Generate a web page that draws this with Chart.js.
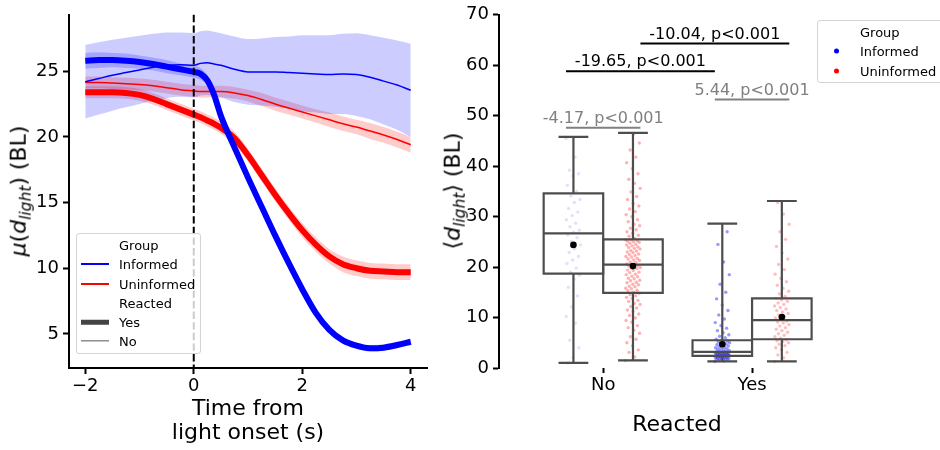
<!DOCTYPE html>
<html>
<head>
<meta charset="utf-8">
<script src="https://cdn.jsdelivr.net/npm/chart.js@4.4.1/dist/chart.umd.min.js"></script>
<style>
  body { margin: 0; width: 940px; height: 450px; overflow: hidden; background: #fff;
         font-family: "DejaVu Sans", sans-serif; position: relative; }
  .panel { position: absolute; top: 0; height: 450px; }
  #left { left: 0; width: 440px; }
  #right { left: 440px; width: 500px; }
  .lbl { position: absolute; font-size: 22px; color: #000; white-space: nowrap;
         transform: translate(-50%, -50%); text-align: center; }
  .ylbl { transform: translate(-50%, -50%) rotate(-90deg); }
  .lbl sub { font-size: 70%; vertical-align: -0.3em; }
  .legend { position: absolute; background: rgba(255,255,255,0.8); border: 1px solid #d4d4d4;
            border-radius: 3px; font-size: 13px; color: #000; }
  .row { position: absolute; left: 42px; height: 19px; line-height: 19px; white-space: nowrap;
         transform: translateY(-50%); }
  .handle { position: absolute; left: 4px; width: 28px; transform: translateY(-50%); }
  .dot { position: absolute; left: 16px; width: 5px; height: 5px; border-radius: 50%;
         transform: translateY(-50%); }
</style>
</head>
<body>
<div id="left" class="panel"><canvas id="lineChart" width="440" height="450"></canvas></div>
<div id="right" class="panel"><canvas id="boxChart" width="500" height="450"></canvas></div>

<div class="lbl ylbl" style="left:20px; top:191px;"><i>μ</i>(<i>d</i><sub><i>light</i></sub>) (BL)</div>
<div class="lbl" style="left:248px; top:420px; line-height:24px;">Time from<br>light onset (s)</div>
<div class="lbl ylbl" style="left:454px; top:191px;">⟨<i>d</i><sub><i>light</i></sub>⟩ (BL)</div>
<div class="lbl" style="left:677px; top:423px;">Reacted</div>

<div class="legend" style="left:76px; top:233px; width:123px; height:119px;">
  <div class="row" style="top:11px;">Group</div>
  <div class="handle" style="top:30px; height:2px; background:#0000ff;"></div>
  <div class="row" style="top:30px;">Informed</div>
  <div class="handle" style="top:49.5px; height:2px; background:#ff0000;"></div>
  <div class="row" style="top:49.5px;">Uninformed</div>
  <div class="row" style="top:69px;">Reacted</div>
  <div class="handle" style="top:88px; height:4.5px; background:#444;"></div>
  <div class="row" style="top:88px;">Yes</div>
  <div class="handle" style="top:107px; height:1.3px; background:#555;"></div>
  <div class="row" style="top:107px;">No</div>
</div>

<div class="legend" style="left:817px; top:20px; width:140px; height:61px;">
  <div class="row" style="top:10.5px;">Group</div>
  <div class="dot" style="top:30px; background:#0000ff;"></div>
  <div class="row" style="top:30px;">Informed</div>
  <div class="dot" style="top:49.5px; background:#ff0000;"></div>
  <div class="row" style="top:49.5px;">Uninformed</div>
</div>

<script>
Chart.defaults.font.family = "DejaVu Sans";
Chart.defaults.color = "#000";

// ---- mean distance to light over time ----
const time = [-2, -1.75, -1.5, -1.25, -1, -0.75, -0.5, -0.25, 0, 0.125, 0.25, 0.375, 0.5,
  0.75, 1, 1.25, 1.5, 1.75, 2, 2.25, 2.5, 2.75, 3, 3.25, 3.5, 3.75, 4];

const informedYes = [25.8, 25.85, 25.85, 25.8, 25.7, 25.55, 25.35, 25.15, 24.95, 24.8, 24.3, 23.2, 21.6,
  19.2, 16.9, 14.7, 12.5, 10.4, 8.4, 6.6, 5.3, 4.5, 4.1, 3.9, 3.95, 4.15, 4.4];
const informedYesCi = [0.6, 0.6, 0.55, 0.55, 0.5, 0.5, 0.5, 0.45, 0.45, 0.45, 0.4, 0.35, 0.3,
  0.3, 0.3, 0.3, 0.3, 0.3, 0.3, 0.3, 0.25, 0.25, 0.25, 0.25, 0.25, 0.25, 0.25];

const uninformedYes = [23.4, 23.4, 23.4, 23.35, 23.2, 22.9, 22.5, 22.1, 21.7, 21.5, 21.25, 21.0, 20.7,
  19.9, 18.6, 17.1, 15.6, 14.2, 12.9, 11.8, 10.9, 10.3, 10.0, 9.8, 9.75, 9.7, 9.7];
const uninformedYesCi = [0.45, 0.45, 0.45, 0.45, 0.45, 0.45, 0.45, 0.45, 0.45, 0.45, 0.45, 0.45, 0.45,
  0.5, 0.5, 0.5, 0.5, 0.5, 0.55, 0.55, 0.55, 0.6, 0.6, 0.6, 0.6, 0.6, 0.6];

const informedNo = [24.2, 24.45, 24.7, 24.9, 25.1, 25.3, 25.45, 25.5, 25.45, 25.6, 25.65, 25.55, 25.45,
  25.15, 24.95, 24.95, 24.95, 24.9, 24.85, 24.8, 24.75, 24.8, 24.75, 24.55, 24.25, 23.95, 23.55];
const informedNoCi = [2.8, 2.75, 2.7, 2.65, 2.6, 2.55, 2.5, 2.45, 2.45, 2.45, 2.45, 2.45, 2.45,
  2.5, 2.5, 2.55, 2.65, 2.75, 2.9, 2.95, 3.0, 3.05, 3.15, 3.2, 3.3, 3.4, 3.55];

const uninformedNo = [24.15, 24.15, 24.1, 24.05, 24.0, 23.9, 23.75, 23.6, 23.5, 23.45, 23.45, 23.45, 23.45,
  23.35, 23.15, 22.85, 22.5, 22.2, 21.9, 21.6, 21.3, 21.0, 20.75, 20.45, 20.15, 19.8, 19.4];
const uninformedNoCi = [0.45, 0.45, 0.45, 0.45, 0.45, 0.45, 0.45, 0.45, 0.45, 0.45, 0.45, 0.45, 0.45,
  0.45, 0.45, 0.5, 0.5, 0.5, 0.5, 0.5, 0.55, 0.55, 0.55, 0.6, 0.6, 0.6, 0.6];

const timeTicks = [-2, 0, 2, 4];
const distTicks = [5, 10, 15, 20, 25];

const BLUE = "#0000ff";
const RED = "#ff0000";

function pts(arr) {
  return time.map((t, i) => ({ x: t, y: arr[i] }));
}

function meanLine(arr, color, width) {
  return {
    data: pts(arr), borderColor: color, borderWidth: width, pointRadius: 0,
    cubicInterpolationMode: "monotone", fill: false, order: 0,
  };
}

// upper edge fills down to the lower edge that follows it
function ciBand(arr, ci, fillColor) {
  const hi = arr.map((v, i) => v + ci[i]);
  const lo = arr.map((v, i) => v - ci[i]);
  return [
    { data: pts(hi), borderWidth: 0, pointRadius: 0, cubicInterpolationMode: "monotone",
      fill: "+1", backgroundColor: fillColor, order: 1 },
    { data: pts(lo), borderWidth: 0, pointRadius: 0, cubicInterpolationMode: "monotone",
      fill: false, order: 1 },
  ];
}

const onsetLine = {
  id: "onsetLine",
  afterDatasetsDraw(chart) {
    const { ctx, chartArea, scales } = chart;
    const x = scales.x.getPixelForValue(0);
    ctx.save();
    ctx.strokeStyle = "#000";
    ctx.lineWidth = 2;
    ctx.setLineDash([7.4, 3.2]);
    ctx.beginPath();
    ctx.moveTo(x, chartArea.top);
    ctx.lineTo(x, chartArea.bottom);
    ctx.stroke();
    ctx.restore();
  },
};

new Chart(document.getElementById("lineChart"), {
  type: "line",
  data: {
    datasets: [
      meanLine(informedYes, BLUE, 6),
      meanLine(uninformedYes, RED, 6),
      meanLine(informedNo, BLUE, 1.5),
      meanLine(uninformedNo, RED, 1.5),
      ...ciBand(informedNo, informedNoCi, "rgba(0,0,255,0.2)"),
      ...ciBand(informedYes, informedYesCi, "rgba(0,0,255,0.2)"),
      ...ciBand(uninformedNo, uninformedNoCi, "rgba(255,0,0,0.2)"),
      ...ciBand(uninformedYes, uninformedYesCi, "rgba(255,0,0,0.2)"),
    ],
  },
  options: {
    responsive: false,
    animation: false,
    layout: { padding: { top: 13, right: 13, left: 0, bottom: 0 } },
    plugins: { legend: { display: false }, tooltip: { enabled: false } },
    scales: {
      x: {
        type: "linear", min: -2.3, max: 4.3,
        afterBuildTicks: (s) => { s.ticks = timeTicks.map((v) => ({ value: v })); },
        afterFit: (s) => { s.height = 82; },
        ticks: { font: { size: 18 }, padding: 2, maxRotation: 0,
                 callback: (v) => (v < 0 ? "\u2212" + Math.abs(v) : String(v)) },
        grid: { drawOnChartArea: false, tickLength: 6, tickWidth: 2, color: "#000" },
        border: { color: "#000", width: 2 },
      },
      y: {
        min: 2.4, max: 29.3,
        afterBuildTicks: (s) => { s.ticks = distTicks.map((v) => ({ value: v })); },
        afterFit: (s) => { s.width = 69; },
        ticks: { font: { size: 18 }, padding: 4 },
        grid: { drawOnChartArea: false, tickLength: 6, tickWidth: 2, color: "#000" },
        border: { color: "#000", width: 2 },
      },
    },
  },
  plugins: [onsetLine],
});

// ---- time-averaged distance by reaction and group ----
const reacted = ["No", "Yes"];
// order: No/Informed, No/Uninformed, Yes/Informed, Yes/Uninformed
const boxCenter = [-0.2, 0.2, 0.8, 1.2];
const whiskerLo = [1.0, 1.5, 1.3, 1.3];
const boxQ1 = [18.7, 14.9, 2.4, 5.7];
const boxMedian = [26.7, 20.5, 3.2, 9.5];
const boxQ3 = [34.6, 25.5, 5.5, 13.8];
const whiskerHi = [45.8, 46.6, 28.6, 33.1];
const groupMean = [24.4, 20.2, 4.7, 10.1];

const noInformedPts = [45.5, 41.8, 39.2, 38.5, 38.1, 36.2, 35.0, 34.1, 33.4, 32.8, 31.6, 30.9, 30.2,
  29.4, 28.7, 28.0, 27.3, 26.9, 26.4, 25.8, 25.1, 24.4, 23.6, 22.9, 22.1, 21.4, 20.7, 19.8, 19.0,
  18.4, 17.6, 16.0, 14.3, 12.1, 10.2, 8.9, 5.5, 4.0, 2.1, 1.0];
const noUninformedPts = [1.5, 2.2, 3.1, 3.6, 4.4, 5.0, 5.7, 6.2, 6.9, 7.5, 8.0, 8.4, 9.1, 9.4, 9.9,
  10.4, 10.7, 11.2, 11.5, 11.9, 12.2, 12.6, 12.8, 13.2, 13.4, 13.8, 14.0, 14.3, 14.5, 14.8,
  15.0, 15.3, 15.4, 15.7, 15.8, 16.1, 16.2, 16.5, 16.6, 16.9, 17.0, 17.3, 17.4, 17.7, 17.8, 18.1,
  18.2, 18.5, 18.6, 18.9, 19.0, 19.3, 19.4, 19.7, 19.8, 19.9, 20.1, 20.2, 20.3, 20.4,
  20.6, 20.9, 21.0, 21.3, 21.4, 21.6, 21.7, 22.0, 22.1, 22.3, 22.5, 22.6, 22.9, 23.0, 23.2, 23.3,
  23.6, 23.7, 23.9, 24.0, 24.2, 24.4, 24.5, 24.7, 24.9, 25.0, 25.1, 25.2, 25.4, 25.4,
  25.7, 26.1, 26.3, 26.7, 27.0, 27.4, 27.7, 28.2, 28.5, 29.0, 29.4, 30.0, 30.4, 31.0, 31.5, 32.1,
  32.6, 33.4, 34.0, 34.9, 35.6, 36.6, 37.4, 38.5, 39.5, 40.7, 41.8, 43.2, 44.6, 46.4];
const yesInformedPts = [1.3, 1.4, 1.5, 1.6, 1.7, 1.75, 1.8, 1.85, 1.9, 1.95, 2.0, 2.05, 2.1, 2.15,
  2.2, 2.25, 2.3, 2.3, 2.35, 2.4, 2.45, 2.5, 2.5, 2.55, 2.6, 2.6, 2.65, 2.7, 2.75, 2.8, 2.8, 2.85,
  2.9, 2.95, 3.0, 3.0, 3.05, 3.1, 3.15, 3.2, 3.3, 3.4, 3.5, 3.6, 3.7, 3.8, 3.9, 4.0, 4.1, 4.2, 4.35,
  4.5, 4.6, 4.75, 4.9, 5.0, 5.1, 5.2, 5.35, 5.5, 5.7, 6.0, 6.3, 6.6, 7.0, 7.4, 7.9, 8.4, 9.0, 9.7,
  10.5, 11.4, 12.5, 13.7, 15.0, 16.6, 18.5, 21.0, 24.5, 27.0];
const yesUninformedPts = [1.3, 2.0, 2.6, 3.1, 3.6, 4.0, 4.4, 4.7, 5.0, 5.2, 5.4, 5.6, 5.9, 6.2, 6.5,
  6.8, 7.1, 7.4, 7.7, 8.0, 8.3, 8.6, 8.9, 9.1, 9.3, 9.6, 9.9, 10.2, 10.5, 10.8, 11.1, 11.4, 11.7,
  12.0, 12.3, 12.6, 12.9, 13.2, 13.5, 13.8, 14.2, 14.7, 15.2, 15.8, 16.4, 17.1, 17.8, 18.6, 19.5,
  20.5, 21.6, 22.8, 24.1, 25.5, 27.0, 28.5, 30.5, 32.8];

const comparisons = [
  { label: "-4.17, p<0.001", from: -0.25, to: 0.25, y: 47.6, color: "#808080" },
  { label: "5.44, p<0.001", from: 0.75, to: 1.25, y: 53.2, color: "#808080" },
  { label: "-19.65, p<0.001", from: -0.25, to: 0.75, y: 58.8, color: "#000" },
  { label: "-10.04, p<0.001", from: 0.25, to: 1.25, y: 64.3, color: "#000" },
];

// strip of points around a box centre, spread sideways a little
function strip(values, center) {
  return values.map((v, i) => ({ x: center + (((i * 0.618034) % 1) - 0.5) * 0.1, y: v }));
}

function stripSet(values, center, color) {
  return { type: "scatter", data: strip(values, center), pointRadius: 1.7,
           pointBackgroundColor: color, pointBorderWidth: 0 };
}

const boxes = {
  id: "boxes",
  afterDatasetsDraw(chart) {
    const { ctx, scales: { x, y } } = chart;
    ctx.save();
    ctx.strokeStyle = "#4d4d4d";
    ctx.lineWidth = 2.2;
    boxCenter.forEach((c, i) => {
      const l = x.getPixelForValue(c - 0.2), r = x.getPixelForValue(c + 0.2);
      const m = x.getPixelForValue(c);
      const cl = x.getPixelForValue(c - 0.1), cr = x.getPixelForValue(c + 0.1);
      const q1 = y.getPixelForValue(boxQ1[i]), q3 = y.getPixelForValue(boxQ3[i]);
      const md = y.getPixelForValue(boxMedian[i]);
      const lo = y.getPixelForValue(whiskerLo[i]), hi = y.getPixelForValue(whiskerHi[i]);
      ctx.beginPath();
      ctx.rect(l, q3, r - l, q1 - q3);
      ctx.moveTo(l, md); ctx.lineTo(r, md);
      ctx.moveTo(m, q1); ctx.lineTo(m, lo);
      ctx.moveTo(m, q3); ctx.lineTo(m, hi);
      ctx.moveTo(cl, lo); ctx.lineTo(cr, lo);
      ctx.moveTo(cl, hi); ctx.lineTo(cr, hi);
      ctx.stroke();
    });
    ctx.fillStyle = "#000";
    boxCenter.forEach((c, i) => {
      ctx.beginPath();
      ctx.arc(x.getPixelForValue(c), y.getPixelForValue(groupMean[i]), 3.3, 0, Math.PI * 2);
      ctx.fill();
    });
    ctx.font = "16px 'DejaVu Sans'";
    ctx.textAlign = "center";
    ctx.textBaseline = "alphabetic";
    ctx.lineWidth = 2;
    comparisons.forEach((cmp) => {
      const x1 = x.getPixelForValue(cmp.from), x2 = x.getPixelForValue(cmp.to);
      const yy = y.getPixelForValue(cmp.y);
      ctx.fillStyle = cmp.color;
      ctx.strokeStyle = cmp.color;
      ctx.fillText(cmp.label, (x1 + x2) / 2, yy - 5);
      ctx.beginPath();
      ctx.moveTo(x1, yy); ctx.lineTo(x2, yy);
      ctx.stroke();
    });
    ctx.restore();
  },
};

new Chart(document.getElementById("boxChart"), {
  type: "scatter",
  data: {
    datasets: [
      stripSet(noInformedPts, boxCenter[0], "rgba(0,0,255,0.12)"),
      stripSet(noUninformedPts, boxCenter[1], "rgba(255,0,0,0.3)"),
      stripSet(yesInformedPts, boxCenter[2], "rgba(0,0,255,0.4)"),
      stripSet(yesUninformedPts, boxCenter[3], "rgba(255,0,0,0.25)"),
    ],
  },
  options: {
    responsive: false,
    animation: false,
    layout: { padding: { top: 14, right: 113.5, left: 0, bottom: 0 } },
    plugins: { legend: { display: false }, tooltip: { enabled: false } },
    scales: {
      x: {
        type: "linear", min: -0.7, max: 1.5,
        afterBuildTicks: (s) => { s.ticks = reacted.map((_, i) => ({ value: i })); },
        afterFit: (s) => { s.height = 82; },
        ticks: { font: { size: 18 }, padding: 2, maxRotation: 0,
                 callback: (v) => reacted[v] },
        grid: { drawOnChartArea: false, tickLength: 5, tickWidth: 2, color: "#000" },
        border: { display: false },
      },
      y: {
        min: 0, max: 70,
        ticks: { stepSize: 10, font: { size: 18 }, padding: 4 },
        afterFit: (s) => { s.width = 59; },
        grid: { drawOnChartArea: false, tickLength: 6, tickWidth: 2, color: "#000" },
        border: { color: "#000", width: 2 },
      },
    },
  },
  plugins: [boxes],
});
</script>
</body>
</html>
